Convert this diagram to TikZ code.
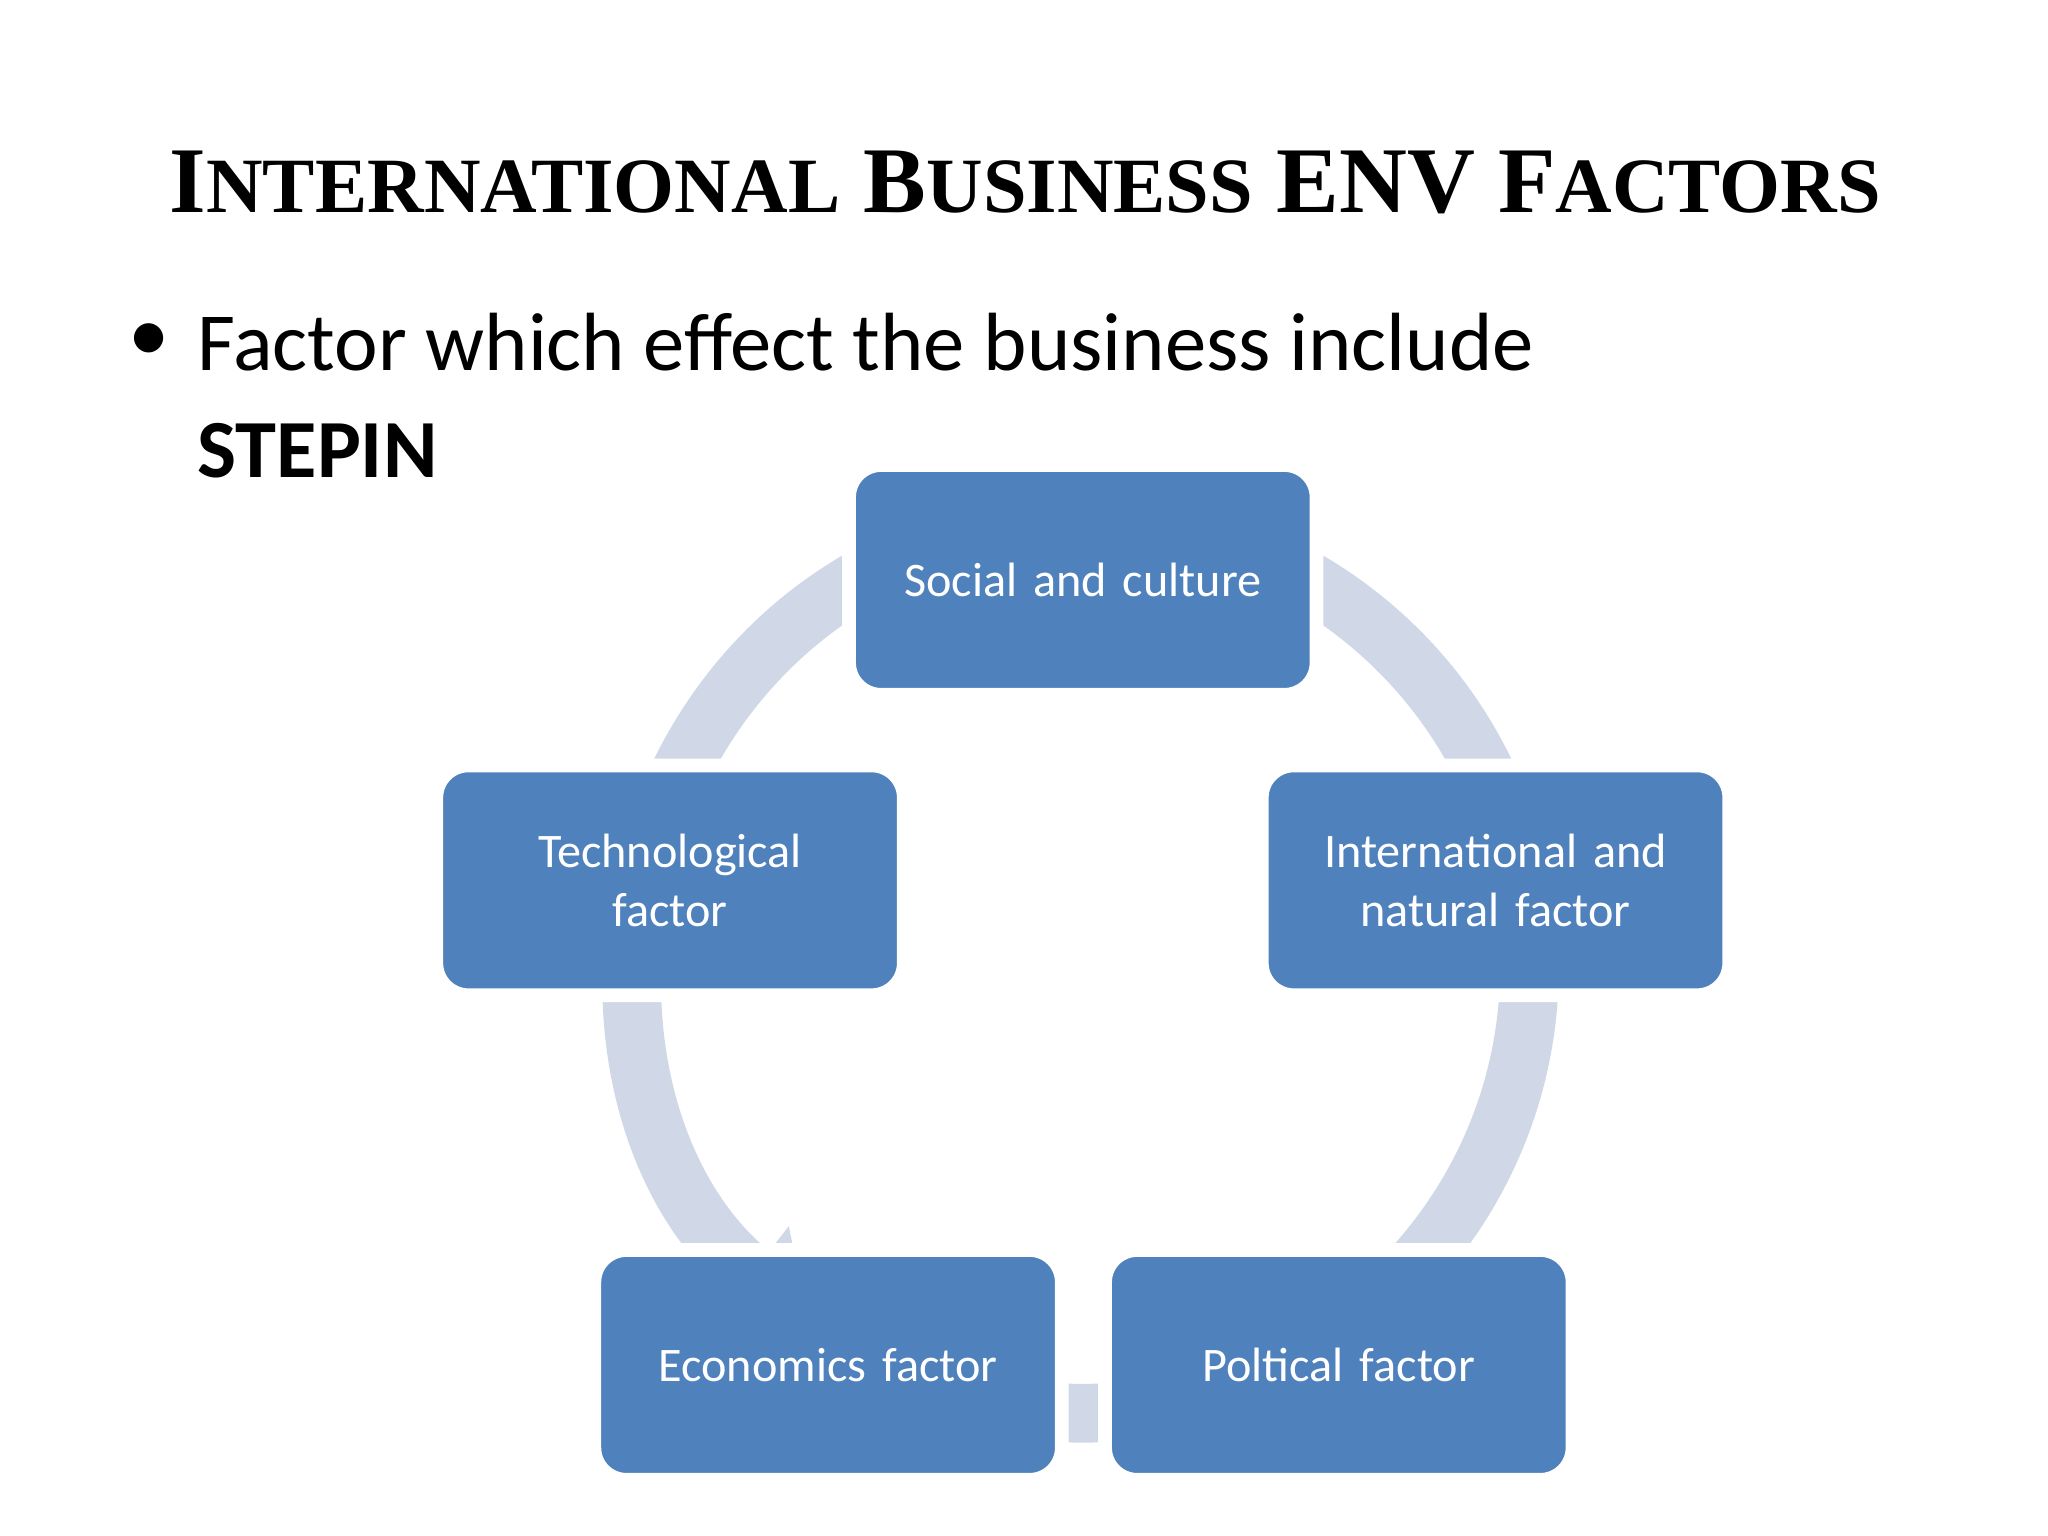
\documentclass[tikz,border=0pt]{standalone}
\usepackage{fontspec}
\setmainfont{Carlito}
\newfontfamily\titlefont{Liberation Serif}
\usetikzlibrary{arrows.meta}
\definecolor{boxblue}{RGB}{79,129,189}
\definecolor{ringc}{RGB}{208,216,232}
\tikzset{
  factor/.style={draw=white,line width=6pt,fill=boxblue,rounded corners=14pt,
    minimum width=7.16cm,minimum height=3.52cm,text=white,
    font=\fontsize{21}{26}\selectfont,align=center,text width=6.8cm}
}
\begin{document}
\begin{tikzpicture}[x=0.02cm,y=-0.02cm]
\useasboundingbox (0,0) rectangle (1568,1176);
\node (title) at (785,140) {\resizebox{26.2cm}{!}{\titlefont\bfseries\fontsize{12}{12}\selectfont I{\fontsize{10}{10}\selectfont NTERNATIONAL} B{\fontsize{10}{10}\selectfont USINESS} ENV F{\fontsize{10}{10}\selectfont ACTORS}}};
\node[anchor=west,font=\fontsize{36}{40}\selectfont] (bullet) at (92,262) {•};
\node[anchor=west,font=\fontsize{36}{40}\selectfont] (line1) at (145,262) {Factor which effect the business include};
\node[anchor=west,font=\fontsize{36}{40}\selectfont\bfseries] (line2) at (145,345) {STEPIN};
\coordinate (c) at (829,740);
\draw[ringc,line width=0.9cm,{Triangle[width=1.8cm,length=1.1cm]}-] ([shift={(128:342)}]c) arc[start angle=128,end angle=485,radius=342];
\node[factor] (s) at (829,444) {Social and culture};
\node[factor] (i) at (1145,674) {International and\\natural factor};
\node[factor] (p) at (1025,1045) {Poltical factor};
\node[factor] (e) at (634,1045) {Economics factor};
\node[factor] (t) at (513,674) {Technological\\factor};
\end{tikzpicture}
\end{document}
